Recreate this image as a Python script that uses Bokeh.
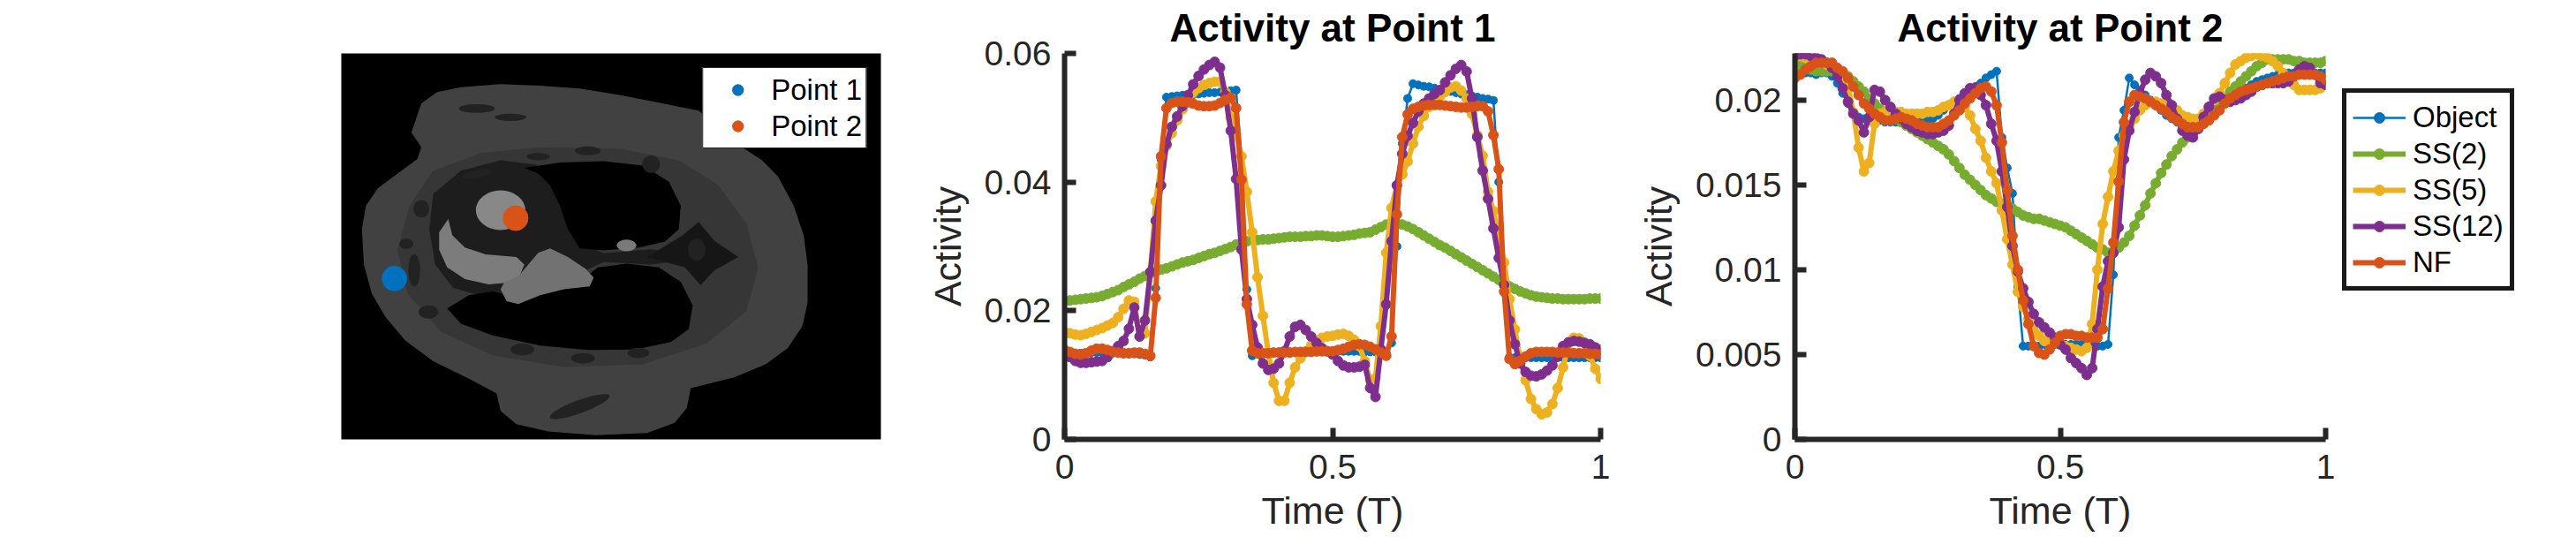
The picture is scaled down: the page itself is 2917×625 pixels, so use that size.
from bokeh.plotting import figure
from bokeh.layouts import row
from bokeh.models import Range1d, FixedTicker, Legend, LegendItem, CustomJSTickFormatter
from bokeh.embed import file_html
from bokeh.resources import INLINE

FONT = "Liberation Sans"
INK = "#262626"

# ---------------- data ----------------
T = [round(i * 0.01, 2) for i in range(101)]
SERIES_NAMES = ["Object", "SS(2)", "SS(5)", "SS(12)", "NF"]
SERIES_COLORS = ["#0072BD", "#77AC30", "#EDB120", "#7E2F8E", "#D95319"]
X_TICKS = [0, 0.5, 1]
P1_Y_TICKS = [0, 0.02, 0.04, 0.06]
P2_Y_TICKS = [0, 0.005, 0.01, 0.015, 0.02]

P1_OBJECT = [
    0.0135, 0.0135, 0.0134, 0.0134, 0.0134, 0.0135, 0.0135, 0.0135, 0.0134, 0.0134,
    0.0134, 0.0133, 0.0133, 0.0133, 0.0132, 0.0131, 0.0128, 0.0235, 0.0435, 0.0532,
    0.0533, 0.0534, 0.0535, 0.0535, 0.0536, 0.0537, 0.0538, 0.0539, 0.0539, 0.0540,
    0.0541, 0.0542, 0.0543, 0.0440, 0.0233, 0.0130, 0.0133, 0.0134, 0.0135, 0.0135,
    0.0136, 0.0136, 0.0136, 0.0136, 0.0136, 0.0136, 0.0136, 0.0136, 0.0137, 0.0137,
    0.0137, 0.0137, 0.0137, 0.0137, 0.0137, 0.0137, 0.0136, 0.0136, 0.0136, 0.0135,
    0.0135, 0.0150, 0.0300, 0.0460, 0.0530, 0.0553, 0.0551, 0.0549, 0.0548, 0.0546,
    0.0544, 0.0542, 0.0541, 0.0539, 0.0537, 0.0536, 0.0534, 0.0532, 0.0530, 0.0529,
    0.0527, 0.0400, 0.0228, 0.0128, 0.0127, 0.0127, 0.0127, 0.0127, 0.0127, 0.0127,
    0.0127, 0.0127, 0.0127, 0.0127, 0.0127, 0.0127, 0.0127, 0.0127, 0.0127, 0.0127,
    0.0127]
P1_SS2 = [
    0.0215, 0.0216, 0.0217, 0.0218, 0.0219, 0.0220, 0.0221, 0.0223, 0.0226, 0.0229,
    0.0232, 0.0237, 0.0241, 0.0245, 0.0250, 0.0254, 0.0258, 0.0261, 0.0264, 0.0266,
    0.0269, 0.0272, 0.0275, 0.0277, 0.0279, 0.0282, 0.0285, 0.0288, 0.0290, 0.0293,
    0.0296, 0.0299, 0.0303, 0.0306, 0.0308, 0.0310, 0.0310, 0.0311, 0.0311, 0.0312,
    0.0313, 0.0314, 0.0315, 0.0315, 0.0315, 0.0316, 0.0316, 0.0317, 0.0317, 0.0316,
    0.0315, 0.0315, 0.0316, 0.0317, 0.0318, 0.0320, 0.0321, 0.0322, 0.0326, 0.0330,
    0.0334, 0.0336, 0.0336, 0.0334, 0.0331, 0.0327, 0.0322, 0.0317, 0.0312, 0.0307,
    0.0302, 0.0298, 0.0293, 0.0288, 0.0283, 0.0278, 0.0273, 0.0268, 0.0263, 0.0258,
    0.0253, 0.0248, 0.0243, 0.0238, 0.0234, 0.0230, 0.0227, 0.0224, 0.0222, 0.0221,
    0.0220, 0.0219, 0.0219, 0.0218, 0.0218, 0.0218, 0.0218, 0.0218, 0.0219, 0.0219,
    0.0219]
P1_SS5 = [
    0.0167, 0.0165, 0.0163, 0.0162, 0.0164, 0.0167, 0.0170, 0.0173, 0.0177, 0.0181,
    0.0190, 0.0203, 0.0216, 0.0214, 0.0160, 0.0165, 0.0260, 0.0370, 0.0425, 0.0456,
    0.0476, 0.0496, 0.0513, 0.0528, 0.0539, 0.0546, 0.0551, 0.0554, 0.0556, 0.0556,
    0.0540, 0.0500, 0.0475, 0.0440, 0.0385, 0.0322, 0.0252, 0.0192, 0.0135, 0.0088,
    0.0060, 0.0060, 0.0088, 0.0112, 0.0126, 0.0137, 0.0146, 0.0153, 0.0158, 0.0160,
    0.0161, 0.0163, 0.0164, 0.0161, 0.0155, 0.0145, 0.0122, 0.0092, 0.0095, 0.0176,
    0.0290, 0.0360, 0.0395, 0.0412, 0.0432, 0.0460, 0.0486, 0.0503, 0.0517, 0.0525,
    0.0533, 0.0540, 0.0547, 0.0549, 0.0542, 0.0530, 0.0506, 0.0473, 0.0441, 0.0385,
    0.0355, 0.0315, 0.0275, 0.0218, 0.0171, 0.0125, 0.0092, 0.0063, 0.0047, 0.0039,
    0.0042, 0.0055, 0.0080, 0.0112, 0.0148, 0.0158, 0.0157, 0.0150, 0.0130, 0.0110,
    0.0094]
P1_SS12 = [
    0.0132, 0.0128, 0.0122, 0.0119, 0.0119, 0.0120, 0.0121, 0.0122, 0.0128, 0.0137,
    0.0145, 0.0153, 0.0172, 0.0205, 0.0160, 0.0185, 0.0260, 0.0340, 0.0395, 0.0459,
    0.0486, 0.0502, 0.0518, 0.0535, 0.0552, 0.0565, 0.0575, 0.0582, 0.0587, 0.0578,
    0.0535, 0.0480, 0.0405, 0.0295, 0.0218, 0.0178, 0.0143, 0.0118, 0.0108, 0.0110,
    0.0118, 0.0137, 0.0160, 0.0175, 0.0178, 0.0170, 0.0160, 0.0150, 0.0142, 0.0137,
    0.0132, 0.0122, 0.0115, 0.0112, 0.0112, 0.0113, 0.0116, 0.0080, 0.0066, 0.0140,
    0.0210, 0.0308, 0.0395, 0.0444, 0.0472, 0.0492, 0.0510, 0.0522, 0.0530, 0.0537,
    0.0543, 0.0555, 0.0566, 0.0576, 0.0582, 0.0572, 0.0530, 0.0470, 0.0418, 0.0374,
    0.0328, 0.0282, 0.0240, 0.0185, 0.0148, 0.0118, 0.0105, 0.0099, 0.0098, 0.0101,
    0.0107, 0.0115, 0.0130, 0.0145, 0.0151, 0.0153, 0.0152, 0.0150, 0.0148, 0.0143,
    0.0139]
P1_NF = [
    0.0139, 0.0136, 0.0133, 0.0132, 0.0134, 0.0138, 0.0141, 0.0141, 0.0139, 0.0136,
    0.0135, 0.0134, 0.0134, 0.0135, 0.0135, 0.0133, 0.0130, 0.0220, 0.0440, 0.0515,
    0.0523, 0.0525, 0.0525, 0.0524, 0.0522, 0.0519, 0.0518, 0.0518, 0.0519, 0.0523,
    0.0528, 0.0531, 0.0515, 0.0404, 0.0210, 0.0138, 0.0134, 0.0134, 0.0134, 0.0135,
    0.0135, 0.0135, 0.0135, 0.0136, 0.0136, 0.0136, 0.0136, 0.0137, 0.0137, 0.0137,
    0.0137, 0.0139, 0.0141, 0.0144, 0.0147, 0.0148, 0.0147, 0.0144, 0.0140, 0.0135,
    0.0130, 0.0160, 0.0350, 0.0470, 0.0505, 0.0514, 0.0517, 0.0519, 0.0520, 0.0520,
    0.0520, 0.0519, 0.0518, 0.0517, 0.0516, 0.0516, 0.0517, 0.0518, 0.0518, 0.0510,
    0.0473, 0.0420, 0.0230, 0.0125, 0.0117, 0.0122, 0.0129, 0.0134, 0.0136, 0.0136,
    0.0136, 0.0136, 0.0135, 0.0135, 0.0135, 0.0134, 0.0134, 0.0134, 0.0133, 0.0133,
    0.0132]

P2_OBJECT = [
    0.0214, 0.0215, 0.0216, 0.0216, 0.0215, 0.0216, 0.0216, 0.0214, 0.0210, 0.0204,
    0.0198, 0.0193, 0.0190, 0.0189, 0.0188, 0.0188, 0.0188, 0.0187, 0.0187, 0.0187,
    0.0187, 0.0187, 0.0188, 0.0188, 0.0188, 0.0188, 0.0189, 0.0191, 0.0194, 0.0197,
    0.0199, 0.0201, 0.0203, 0.0206, 0.0208, 0.0210, 0.0213, 0.0215, 0.0217, 0.0178,
    0.0160, 0.0145, 0.0090, 0.0055, 0.0055, 0.0055, 0.0055, 0.0056, 0.0056, 0.0056,
    0.0056, 0.0056, 0.0056, 0.0056, 0.0056, 0.0056, 0.0056, 0.0055, 0.0055, 0.0056,
    0.0097, 0.0178, 0.0194, 0.0213, 0.0209, 0.0206, 0.0203, 0.0200, 0.0197, 0.0194,
    0.0191, 0.0189, 0.0187, 0.0185, 0.0185, 0.0186, 0.0188, 0.0190, 0.0193, 0.0195,
    0.0198, 0.0200, 0.0201, 0.0203, 0.0205, 0.0207, 0.0209, 0.0211, 0.0212, 0.0213,
    0.0214, 0.0215, 0.0216, 0.0216, 0.0216, 0.0216, 0.0216, 0.0216, 0.0216, 0.0216,
    0.0216]
P2_SS2 = [
    0.0221, 0.0220, 0.0219, 0.0218, 0.0217, 0.0217, 0.0217, 0.0217, 0.0216, 0.0215,
    0.0214, 0.0211, 0.0208, 0.0205, 0.0201, 0.0198, 0.0195, 0.0193, 0.0192, 0.0189,
    0.0187, 0.0185, 0.0183, 0.0181, 0.0179, 0.0177, 0.0175, 0.0173, 0.0171, 0.0168,
    0.0164, 0.0160, 0.0156, 0.0153, 0.0150, 0.0147, 0.0144, 0.0142, 0.0140, 0.0139,
    0.0138, 0.0136, 0.0134, 0.0132, 0.0131, 0.0130, 0.0130, 0.0129, 0.0128, 0.0127,
    0.0126, 0.0125, 0.0123, 0.0121, 0.0119, 0.0117, 0.0115, 0.0113, 0.0112, 0.0110,
    0.0110, 0.0113, 0.0116, 0.0120, 0.0126, 0.0132, 0.0138, 0.0145, 0.0151, 0.0157,
    0.0162, 0.0167, 0.0171, 0.0175, 0.0178, 0.0181, 0.0184, 0.0187, 0.0190, 0.0193,
    0.0197, 0.0201, 0.0205, 0.0208, 0.0211, 0.0214, 0.0217, 0.0220, 0.0222, 0.0224,
    0.0224, 0.0224, 0.0224, 0.0224, 0.0223, 0.0223, 0.0222, 0.0222, 0.0222, 0.0222,
    0.0223]
P2_SS5 = [
    0.0227, 0.0226, 0.0225, 0.0224, 0.0223, 0.0222, 0.0221, 0.0220, 0.0217, 0.0214,
    0.0208, 0.0193, 0.0172, 0.0158, 0.0163, 0.0186, 0.0192, 0.0193, 0.0193, 0.0193,
    0.0193, 0.0192, 0.0192, 0.0192, 0.0192, 0.0193, 0.0193, 0.0194, 0.0196, 0.0197,
    0.0199, 0.0199, 0.0196, 0.0191, 0.0183, 0.0176, 0.0166, 0.0158, 0.0151, 0.0135,
    0.0118, 0.0103, 0.0087, 0.0078, 0.0071, 0.0064, 0.0061, 0.0058, 0.0057, 0.0057,
    0.0056, 0.0055, 0.0054, 0.0053, 0.0052, 0.0054, 0.0068, 0.0100, 0.0127, 0.0143,
    0.0158, 0.0170, 0.0179, 0.0185, 0.0189, 0.0194, 0.0197, 0.0199, 0.0199, 0.0198,
    0.0197, 0.0196, 0.0194, 0.0191, 0.0190, 0.0189, 0.0189, 0.0192, 0.0196, 0.0200,
    0.0204, 0.0210, 0.0216, 0.0221, 0.0223, 0.0225, 0.0226, 0.0227, 0.0226, 0.0225,
    0.0223, 0.0220, 0.0216, 0.0212, 0.0209, 0.0206, 0.0206, 0.0206, 0.0206, 0.0207,
    0.0209]
P2_SS12 = [
    0.0226, 0.0227, 0.0227, 0.0226, 0.0225, 0.0224, 0.0222, 0.0219, 0.0214, 0.0207,
    0.0199, 0.0192, 0.0188, 0.0181, 0.0190, 0.0206, 0.0205, 0.0200, 0.0196, 0.0192,
    0.0189, 0.0186, 0.0184, 0.0182, 0.0181, 0.0180, 0.0180, 0.0181, 0.0182, 0.0185,
    0.0192, 0.0200, 0.0204, 0.0207, 0.0207, 0.0203, 0.0197, 0.0186, 0.0176, 0.0158,
    0.0137, 0.0114, 0.0099, 0.0089, 0.0081, 0.0074, 0.0069, 0.0066, 0.0063, 0.0060,
    0.0056, 0.0053, 0.0048, 0.0045, 0.0042, 0.0038, 0.0042, 0.0065, 0.0090, 0.0105,
    0.0110, 0.0125, 0.0165, 0.0182, 0.0193, 0.0204, 0.0212, 0.0216, 0.0214, 0.0210,
    0.0203, 0.0197, 0.0189, 0.0182, 0.0179, 0.0178, 0.0183, 0.0190, 0.0196, 0.0201,
    0.0202, 0.0200, 0.0199, 0.0200, 0.0201, 0.0203, 0.0205, 0.0208, 0.0209, 0.0210,
    0.0210, 0.0210, 0.0210, 0.0211, 0.0214, 0.0218, 0.0220, 0.0219, 0.0215, 0.0210,
    0.0209]
P2_NF = [
    0.0213, 0.0215, 0.0218, 0.0220, 0.0222, 0.0222, 0.0222, 0.0222, 0.0219, 0.0217,
    0.0213, 0.0208, 0.0203, 0.0198, 0.0195, 0.0192, 0.0190, 0.0188, 0.0188, 0.0189,
    0.0190, 0.0189, 0.0188, 0.0186, 0.0185, 0.0184, 0.0184, 0.0184, 0.0186, 0.0188,
    0.0191, 0.0194, 0.0198, 0.0201, 0.0204, 0.0207, 0.0208, 0.0205, 0.0197, 0.0175,
    0.0147, 0.0120, 0.0100, 0.0082, 0.0068, 0.0055, 0.0051, 0.0050, 0.0053, 0.0057,
    0.0061, 0.0062, 0.0062, 0.0061, 0.0061, 0.0060, 0.0060, 0.0060, 0.0065, 0.0089,
    0.0116, 0.0152, 0.0187, 0.0199, 0.0203, 0.0202, 0.0201, 0.0199, 0.0197, 0.0195,
    0.0193, 0.0190, 0.0188, 0.0186, 0.0184, 0.0184, 0.0184, 0.0186, 0.0188, 0.0191,
    0.0194, 0.0198, 0.0201, 0.0203, 0.0205, 0.0206, 0.0207, 0.0208, 0.0209, 0.0210,
    0.0211, 0.0212, 0.0213, 0.0214, 0.0214, 0.0215, 0.0215, 0.0215, 0.0215, 0.0214,
    0.0212]

P1_SERIES = [P1_OBJECT, P1_SS2, P1_SS5, P1_SS12, P1_NF]
P2_SERIES = [P2_OBJECT, P2_SS2, P2_SS5, P2_SS12, P2_NF]

# ---------------- phantom picture (left panel), in picture units ----------------
POINT_NAMES = ["Point 1", "Point 2"]
POINT_X = [232, 538]
POINT_Y = [848, 642]
POINT_COLORS = ["#0072BD", "#D95319"]

BODY_X = [275, 300, 340, 400, 500, 600, 700, 800, 900, 1000, 1110, 1160, 1200, 1240, 1265,
          1275, 1275, 1262, 1225, 1170, 1090, 980, 970, 940, 870, 740, 620, 540, 500, 490,
          420, 330, 260, 210, 175, 155, 150, 160, 190, 240, 290, 300]
BODY_Y = [350, 250, 212, 195, 185, 190, 200, 222, 248, 275, 400, 445, 500, 600, 700,
          800, 930, 1010, 1085, 1140, 1185, 1222, 1290, 1340, 1375, 1383, 1370, 1345, 1300, 1240,
          1190, 1130, 1060, 980, 900, 800, 680, 600, 540, 490, 440, 400]
INNER_X = [330, 450, 600, 800, 950, 1050, 1120, 1150, 1120, 1020, 860, 660, 480, 350, 265, 240, 270]
INNER_Y = [480, 420, 400, 405, 445, 530, 660, 810, 960, 1070, 1140, 1150, 1110, 1030, 900, 750, 600]
MED_X = [330, 400, 500, 590, 640, 665, 690, 760, 880, 940, 940, 880, 760, 700, 620, 540, 460, 380, 335, 320]
MED_Y = [560, 480, 445, 460, 520, 620, 720, 762, 748, 760, 790, 800, 792, 830, 890, 930, 910, 880, 800, 680]
UPPER_LUNG_X = [560, 650, 760, 860, 925, 955, 950, 915, 850, 760, 700, 670, 650, 625, 595]
UPPER_LUNG_Y = [470, 452, 448, 463, 518, 600, 680, 722, 742, 752, 745, 680, 600, 530, 490]
LOWER_LUNG_X = [365, 420, 480, 540, 610, 700, 745, 820, 900, 955, 985, 975, 930, 840, 720, 600, 480, 400]
LOWER_LUNG_Y = [950, 905, 892, 912, 900, 860, 810, 797, 810, 860, 940, 1020, 1065, 1090, 1092, 1077, 1042, 1002]
LV_X = [368, 378, 410, 462, 540, 560, 548, 520, 470, 410, 365, 345, 345]
LV_Y = [645, 700, 742, 766, 775, 800, 840, 862, 868, 850, 810, 750, 690]
RV_X = [500, 515, 545, 600, 660, 725, 735, 715, 670, 625, 595, 570, 545, 510]
RV_Y = [885, 925, 935, 905, 885, 875, 845, 815, 775, 745, 760, 800, 840, 860]
DIAMOND_X = [870, 960, 1000, 1040, 1100, 1040, 1005, 965]
DIAMOND_Y = [775, 700, 655, 720, 775, 820, 870, 810]
SPOT_X = [440, 525, 300, 262, 282, 318, 555, 708, 848, 700, 720, 595, 440, 880, 995]
SPOT_Y = [268, 298, 610, 730, 820, 962, 1090, 1120, 1102, 1285, 412, 432, 492, 458, 750]
SPOT_W = [90, 80, 40, 35, 30, 50, 60, 60, 55, 160, 65, 60, 75, 45, 45]
SPOT_H = [30, 25, 60, 35, 110, 45, 40, 35, 35, 45, 30, 25, 28, 60, 75]
SPOT_A = [0, 0, 0, 0, 0, 0, 0, 0, 0, 0.35, 0, 0, 0.2, -0.4, 0]

# ---------------- left panel: phantom image ----------------
f0 = figure(width=1030, height=609, x_range=Range1d(98, 1460), y_range=Range1d(1397, 80),
            min_border_left=386, min_border_right=33, min_border_top=59, min_border_bottom=112,
            x_axis_location=None, y_axis_location=None, tools="", toolbar_location=None,
            output_backend="svg")
f0.grid.visible = False
f0.outline_line_color = None
f0.background_fill_color = "#000000"

f0.patch(BODY_X, BODY_Y, fill_color="#414141", line_color=None)
f0.patch(INNER_X, INNER_Y, fill_color="#363636", line_color=None)
f0.patch(MED_X, MED_Y, fill_color="#1d1d1d", line_color=None)
f0.patch(UPPER_LUNG_X, UPPER_LUNG_Y, fill_color="#000000", line_color=None)
f0.patch(LOWER_LUNG_X, LOWER_LUNG_Y, fill_color="#000000", line_color=None)
f0.patch(DIAMOND_X, DIAMOND_Y, fill_color="#161616", line_color=None)
f0.ellipse(SPOT_X, SPOT_Y, width=SPOT_W, height=SPOT_H, angle=SPOT_A,
           fill_color="#222222", line_color=None)
f0.patch(LV_X, LV_Y, fill_color="#7c7c7c", line_color=None)
f0.patch(RV_X, RV_Y, fill_color="#727272", line_color=None)
f0.ellipse([500], [615], width=125, height=135, fill_color="#888888", line_color=None)
f0.ellipse([818], [735], width=50, height=40, fill_color="#7a7a7a", line_color=None)

pt_items = []
for name, x, y, c in zip(POINT_NAMES, POINT_X, POINT_Y, POINT_COLORS):
    r = f0.scatter([x], [y], size=28, fill_color=c, line_color=c)
    pt_items.append(LegendItem(label=name, renderers=[r]))
leg0 = Legend(items=pt_items, location="top_right", margin=16, padding=4, spacing=0,
              glyph_width=70, glyph_height=31, label_height=41, label_standoff=3,
              label_text_font=FONT, label_text_font_size="33px", label_text_color="#000000",
              border_line_color=INK, border_line_width=1.5, border_line_alpha=1.0,
              background_fill_color="#ffffff", background_fill_alpha=1.0)
f0.add_layout(leg0)


# ---------------- line plots ----------------
def style_plot(p, yticks, title):
    p.title.text = title
    p.title.align = "center"
    p.title.text_font = FONT
    p.title.text_font_size = "44px"
    p.title.text_font_style = "bold"
    p.title.text_color = "#000000"
    p.title.standoff = 9
    p.outline_line_color = None
    p.grid.visible = False
    p.xaxis.ticker = FixedTicker(ticks=X_TICKS)
    p.yaxis.ticker = FixedTicker(ticks=yticks)
    for ax in (p.xaxis[0], p.yaxis[0]):
        ax.formatter = CustomJSTickFormatter(code="return String(tick);")
        ax.axis_line_width = 6
        ax.axis_line_color = INK
        ax.major_tick_line_width = 6
        ax.major_tick_line_color = INK
        ax.major_tick_in = 13
        ax.major_tick_out = 0
        ax.minor_tick_line_color = None
        ax.major_label_text_font = FONT
        ax.major_label_text_font_size = "39px"
        ax.major_label_text_color = INK
        ax.axis_label_text_font = FONT
        ax.axis_label_text_font_size = "43px"
        ax.axis_label_text_font_style = "normal"
        ax.axis_label_text_color = INK
    p.xaxis.axis_label = "Time (T)"
    p.yaxis.axis_label = "Activity"
    p.xaxis.major_label_standoff = 17
    p.xaxis.axis_label_standoff = 9
    p.yaxis.major_label_standoff = 15
    p.yaxis.axis_label_standoff = 15


def draw_series(p, series):
    out = []
    for name, color, ys in zip(SERIES_NAMES, SERIES_COLORS, series):
        thin = name == "Object"
        lr = p.line(T, ys, line_color=color, line_width=2.5 if thin else 6)
        sr = p.scatter(T, ys, size=9 if thin else 11, fill_color=color, line_color=color)
        out.append((name, lr, sr))
    return out


f1 = figure(width=820, height=609, x_range=Range1d(0, 1), y_range=Range1d(0, 0.06),
            min_border_left=175, min_border_right=38, min_border_top=59, min_border_bottom=112,
            tools="", toolbar_location=None, output_backend="svg")
style_plot(f1, P1_Y_TICKS, "Activity at Point 1")
draw_series(f1, P1_SERIES)

f2 = figure(width=797, height=609, x_range=Range1d(0, 1), y_range=Range1d(0, 0.02275),
            min_border_left=176, min_border_right=14, min_border_top=59, min_border_bottom=112,
            tools="", toolbar_location=None, output_backend="svg")
style_plot(f2, P2_Y_TICKS, "Activity at Point 2")
draw_series(f2, P2_SERIES)

# legend panel for the second plot (sits just right of its axes)
f3 = figure(width=254, height=609, x_range=Range1d(0, 1), y_range=Range1d(0, 1),
            min_border_left=0, min_border_right=0, min_border_top=59, min_border_bottom=112,
            x_axis_location=None, y_axis_location=None, tools="", toolbar_location=None,
            output_backend="svg")
f3.grid.visible = False
f3.outline_line_color = None
proxy_items = []
for name, color in zip(SERIES_NAMES, SERIES_COLORS):
    thin = name == "Object"
    lr = f3.line([-5, -4], [-5, -4], line_color=color, line_width=2.5 if thin else 6)
    sr = f3.scatter([-5], [-5], size=9 if thin else 11, fill_color=color, line_color=color)
    proxy_items.append(LegendItem(label=name, renderers=[lr, sr]))
leg2 = Legend(items=proxy_items, location=(5, 168), margin=0, padding=7, spacing=0,
              glyph_width=60, glyph_height=30, label_height=41, label_standoff=8,
              label_text_font=FONT, label_text_font_size="33px", label_text_color="#000000",
              border_line_color="#1a1a1a", border_line_width=5, border_line_alpha=1.0,
              background_fill_color="#ffffff", background_fill_alpha=1.0)
f3.add_layout(leg2)

layout = row(f0, f1, f2, f3)
open("out.html", "w").write(file_html(layout, INLINE))
